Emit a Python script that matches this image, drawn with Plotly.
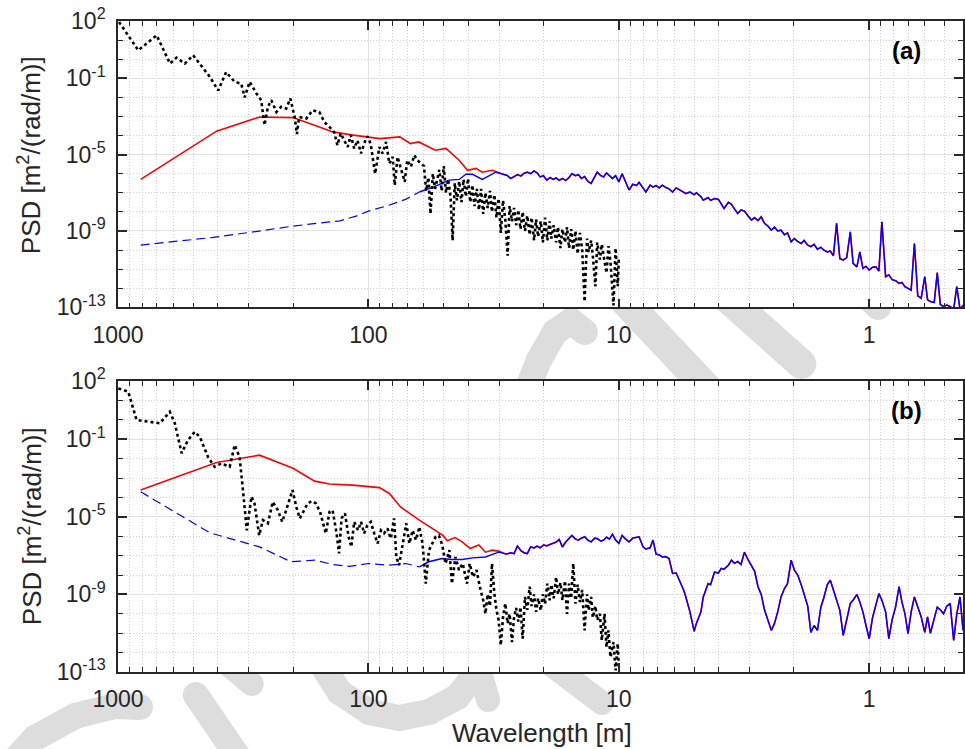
import plotly.graph_objects as go

# ---------------- panel (a) ----------------
a_black_wl = [990, 830, 701, 620, 584, 541, 501, 457, 430, 398, 370, 342, 322, 312, 298, 280, 268, 260, 252, 244,
              233, 223, 213, 205, 197, 193, 189, 177, 167, 157, 150, 143, 137, 133, 129, 125, 121, 117.6, 114, 110.6,
              107, 104, 101, 98, 94, 90.4, 87.8, 85, 82.5, 80, 78.5, 76.5, 74, 71.6, 70, 67.6, 65.6, 63.7,
              60, 58.8, 57.6, 56.5, 55.3, 54.2, 53.1, 52.1, 51, 50, 49, 48, 47, 46.1, 45.2, 44.3, 43.4, 42.5, 41.7,
              40.8, 40, 39.2, 38.4, 37.7, 36.9, 36.2, 35.5, 34.8, 34.1, 33.4, 32.7, 32.1, 31.4, 30.8, 30.2, 29.6,
              29, 28.4, 27.8, 27.3, 26.7, 26.2, 25.7, 25.2, 24.7, 24.2, 23.7, 23.2, 22.7, 22.3, 21.8, 21.4, 21,
              20.5, 20.1, 19.7, 19.3, 18.9, 18.6, 18.2, 17.8, 17.5, 17.1, 16.8, 16.4, 16.1, 15.8, 15.5, 15.2, 14.9,
              14.6, 14.3, 14, 13.7, 13.4, 13.2, 12.9, 12.7, 12.4, 12.2, 11.9, 11.7, 11.4, 11.2, 11, 10.8, 10.5,
              10.3, 10.1, 10.0]
a_black_psd = [89, 2.9, 17.8, 0.59, 1.2, 0.59, 1.6, 0.32, 0.12, 0.023, 0.21, 0.065, 0.052, 0.010, 0.065, 0.016, 7.1e-3,
               3.5e-4, 3.2e-3, 7.1e-3, 1.7e-3, 3.2e-3, 2.6e-3, 8.7e-3, 9.3e-4, 1.2e-4, 9.3e-4, 7.8e-4, 2.1e-3, 1.7e-3,
               5.1e-4, 2.8e-4, 1.5e-4, 3.1e-5, 1.3e-4, 5.6e-5, 2.5e-5, 1.05e-4, 2.1e-5, 5.6e-5, 1.15e-5, 3.8e-5,
               9.1e-5, 3.8e-5, 1.0e-6, 2.5e-5, 1.15e-5, 4.6e-5, 3.4e-6, 7.6e-6, 2.5e-7, 7.6e-6, 1.5e-6, 3.7e-7, 5.1e-6,
               2.3e-6, 9.3e-6, 5.1e-6,
               2.5e-6, 1.26e-7, 6.3e-7, 7.9e-9, 1.0e-6, 1.6e-7, 5.0e-7, 1.6e-6, 1.26e-7, 2.5e-6, 1.0e-7, 5.0e-7,
               6.3e-8, 3.2e-10, 3.2e-7, 4.0e-8, 4.0e-7, 3.2e-8, 5.0e-7, 6.3e-8, 5.6e-7, 3.2e-8, 2.5e-7, 2.0e-8,
               1.6e-7, 1.26e-8, 1.6e-7, 7.9e-9, 1.0e-7, 1.6e-8, 1.26e-7, 1.0e-8, 7.9e-8, 5.0e-9, 5.0e-8, 7.9e-10,
               4.0e-8, 4.0e-9, 5.0e-11, 2.0e-8, 3.2e-9, 1.6e-8, 2.0e-9, 1.26e-8, 1.26e-9, 1.0e-8, 1.0e-9, 6.3e-9,
               6.3e-10, 5.0e-9, 3.2e-10, 4.0e-9, 5.0e-10, 3.2e-9, 2.5e-10, 5.0e-9, 3.2e-10, 3.2e-9, 4.0e-10,
               2.0e-9, 2.5e-10, 1.6e-9, 1.26e-10, 1.26e-9, 2.5e-10, 1.6e-9, 1.26e-10, 1.26e-9, 1.0e-10, 1.0e-9,
               6.3e-11, 7.9e-10, 1.0e-10, 2.0e-13, 4.0e-10, 7.9e-11, 3.2e-10, 5.0e-11, 1.26e-12, 2.5e-10, 3.2e-11,
               2.0e-10, 2.5e-11, 6.3e-12, 1.6e-10, 2.5e-11, 1.26e-13, 1.26e-10, 1.26e-12, 3.2e-11]

a_red_wl = [812, 404, 272, 200, 157, 143, 139, 115, 100, 90, 75, 68, 63, 54, 49, 43.4, 40.2, 37.2, 35.1, 32.0, 28.3]
a_red_psd = [5.0e-7, 1.7e-4, 9.3e-4, 8.7e-4, 2.8e-4, 1.8e-4, 1.55e-4, 1.05e-4, 8.5e-5, 6.9e-5, 8.5e-5, 3.8e-5,
             4.6e-5, 1.7e-5, 2.1e-5, 5.1e-6, 1.5e-6, 1.9e-6, 1.2e-6, 1.5e-6, 8.3e-7]

a_blue_wl = [812, 417, 289, 200, 143, 130, 112, 100, 85, 71, 62.6, 55.4, 47.6, 43.4, 40.8, 38.4, 35.1, 31.0,
             28, 27, 26.2, 25.4, 24.6, 23.9, 23.2, 22.5, 21.8, 21.2, 20.6, 20, 19.4, 18.8, 18.3, 17.8, 17.3, 16.8,
             16.3, 15.8, 15.4, 14.9, 14.5, 14.1, 13.7, 13.3, 12.9, 12.5, 12.2, 11.8, 11.5, 11.2, 10.9, 10.6, 10.3,
             10.0, 9.7, 9.4, 9.1, 8.8, 8.5, 8.3, 8.0, 7.8, 7.5, 7.3, 7.1, 6.9, 6.7, 6.5, 6.3, 6.1, 5.9, 5.7, 5.5,
             5.4, 5.2, 5.0, 4.9, 4.7, 4.6, 4.4, 4.3, 4.15, 4.0, 3.9, 3.8, 3.65, 3.55, 3.45, 3.35, 3.25, 3.15, 3.05,
             2.95, 2.87, 2.78, 2.7, 2.62, 2.54, 2.46, 2.39, 2.32, 2.25, 2.18, 2.12, 2.05, 1.99, 1.93, 1.87, 1.82,
             1.76, 1.71, 1.66, 1.61, 1.56, 1.52, 1.47, 1.43, 1.39, 1.35, 1.31, 1.27, 1.23, 1.19, 1.16, 1.12, 1.09,
             1.06, 1.03, 1.0, 0.97, 0.94, 0.915, 0.89, 0.86, 0.835, 0.81, 0.785, 0.76, 0.74, 0.72, 0.70, 0.68, 0.66,
             0.64, 0.62, 0.60, 0.585, 0.57, 0.55, 0.535, 0.52, 0.505, 0.49, 0.475, 0.46, 0.447, 0.434, 0.422]
a_blue_psd = [1.8e-10, 4.6e-10, 8.9e-10, 1.8e-9, 3.0e-9, 3.4e-9, 6.0e-9, 1.1e-8, 2.0e-8, 4.5e-8, 1.1e-7, 1.9e-7,
              4.6e-7, 5.0e-7, 9.3e-7, 9.3e-7, 5.0e-7, 1.2e-6,
              8.3e-7, 5.6e-7, 7.1e-7, 8.9e-7, 7.6e-7, 1.05e-6, 1.2e-6, 1.0e-6, 1.4e-6, 1.1e-6, 6.8e-7, 7.9e-7,
              4.6e-7, 6.3e-7, 5.0e-7, 6.0e-7, 4.5e-7, 5.6e-7, 4.4e-7, 6.3e-7, 1.0e-6, 7.9e-7, 8.9e-7, 5.6e-7,
              7.1e-7, 4.0e-7, 3.1e-7, 6.3e-7, 1.2e-6, 7.9e-7, 6.8e-7, 1.1e-6, 7.6e-7, 5.6e-7, 7.9e-7, 3.7e-7,
              1.0e-6, 4.0e-7, 1.4e-7, 2.8e-7, 2.4e-7, 3.5e-7, 1.8e-7, 1.1e-7, 2.5e-7, 2.0e-7, 2.4e-7, 1.8e-7,
              2.5e-7, 1.9e-7, 1.6e-7, 1.1e-7, 1.8e-7, 1.4e-7, 1.0e-7, 9.1e-8, 1.1e-7, 7.9e-8, 1.0e-7, 6.3e-8,
              4.1e-8, 5.6e-8, 4.0e-8, 5.0e-8, 4.5e-8, 2.5e-8, 1.5e-8, 3.2e-8, 2.5e-8, 1.4e-8, 8.3e-9, 1.26e-8,
              1.1e-8, 6.3e-9, 3.7e-9, 5.0e-9, 3.5e-9, 5.5e-9, 2.5e-9, 1.8e-9, 1.1e-9, 1.6e-9, 1.0e-9, 1.1e-9,
              6.3e-10, 7.9e-10, 2.7e-10, 4.0e-10, 2.8e-10, 2.2e-10, 3.2e-10, 1.8e-10, 1.5e-10, 2.0e-10, 1.1e-10,
              1.4e-10, 1.0e-10, 7.9e-11, 8.9e-11, 5.0e-11, 2.5e-9, 3.5e-11, 3.0e-11, 4.0e-11, 8.9e-10, 2.0e-11,
              1.3e-11, 7.9e-11, 1.1e-11, 1.4e-11, 8.9e-12, 1.26e-11, 1.3e-11, 7.9e-12, 3.0e-9, 4.0e-12, 5.0e-12,
              2.8e-12, 2.5e-12, 1.8e-12, 2.0e-12, 1.2e-12, 1.0e-12, 7.9e-13, 2.2e-10, 4.0e-13, 3.0e-13, 4.0e-12,
              2.5e-13, 2.0e-13, 1.8e-13, 6.5e-12, 1.4e-13, 1.1e-13, 1.3e-13, 1.1e-13, 7.9e-14, 1.2e-12, 7.9e-14,
              1.26e-13]

# ---------------- panel (b) ----------------
b_black_wl = [997, 910, 843, 746, 680, 621, 593, 557, 525, 494, 471, 437, 411, 387, 358, 342, 327, 317, 306, 293,
              285, 273, 264, 252, 241, 230, 221, 213, 201, 194, 188, 182, 175, 168, 162, 156, 152, 148, 143, 139,
              134, 131, 128, 124, 120, 117, 114, 110, 107, 104, 101, 97.8, 94.8, 91.9, 89.1, 86.6, 83.9, 81.4, 79.0,
              77.4, 75.4, 73.2, 70.6, 68.6, 66.6, 64.6, 62.6, 60.8, 59.0, 57.3, 55.6, 53.9, 52.3, 50.7, 49.2, 47.5,
              46.4, 44.9, 43.5, 42.0, 40.4, 39.4, 38.2, 37.0, 35.9, 34.8,
              34.1, 33.4, 32.7, 32.1, 31.4, 30.8, 30.2, 29.6, 29, 28.4, 27.8, 27.3, 26.7, 26.2, 25.7, 25.2, 24.7,
              24.2, 23.7, 23.2, 22.7, 22.3, 21.8, 21.4, 21, 20.5, 20.1, 19.7, 19.3, 18.9, 18.6, 18.2, 17.8, 17.5,
              17.1, 16.8, 16.4, 16.1, 15.8, 15.5, 15.2, 14.9, 14.6, 14.3, 14, 13.7, 13.4, 13.2, 12.9, 12.7, 12.4,
              12.2, 11.9, 11.7, 11.4, 11.2, 11, 10.8, 10.5, 10.3, 10.1, 10.0]
b_black_psd = [41.7, 28.2, 0.98, 0.79, 0.66, 2.6, 0.66, 0.019, 0.091, 0.24, 0.13, 0.012, 3.8e-3, 5.6e-3, 3.8e-3,
               0.050, 0.012, 2.4e-4, 2.0e-6, 1.1e-4, 4.9e-5, 1.1e-6, 6.8e-6, 4.6e-6, 5.9e-5, 2.2e-5, 5.5e-6, 2.2e-5,
               2.4e-4, 3.2e-5, 8.3e-6, 1.8e-5, 4.9e-5, 6.5e-5, 4.9e-5, 1.8e-5, 4.6e-6, 1.4e-6, 1.8e-5, 2.2e-5,
               1.4e-6, 1.3e-7, 8.3e-6, 1.5e-5, 9.3e-7, 2.8e-7, 5.5e-6, 2.0e-6, 5.5e-6, 1.4e-6, 3.7e-6, 5.5e-6,
               1.4e-6, 4.2e-7, 2.0e-6, 1.4e-6, 2.5e-6, 7.6e-7, 8.3e-6, 8.5e-8, 3.2e-8, 2.8e-7, 4.6e-6, 4.2e-7,
               2.0e-6, 6.3e-7, 3.0e-6, 4.2e-7, 3.6e-9, 1.9e-7, 4.2e-7, 9.3e-7, 1.1e-6, 3.5e-7, 3.9e-8, 1.9e-7,
               3.6e-9, 8.5e-8, 1.8e-8, 3.9e-8, 3.6e-9, 3.9e-8, 7.9e-9, 1.8e-8, 2.5e-9, 5.0e-10,
               1.0e-10, 1.0e-9, 2.5e-10, 3.9e-8, 1.1e-9, 1.6e-10, 4.7e-11, 2.4e-12, 6.9e-11, 3.4e-10, 3.2e-11,
               1.0e-10, 3.5e-12, 6.9e-11, 2.0e-10, 4.0e-11, 2.2e-10, 5.2e-12, 7.4e-10, 1.6e-10, 2.5e-9, 2.5e-10,
               1.0e-9, 1.26e-10, 6.3e-10, 1.5e-10, 1.0e-9, 3.2e-10, 3.6e-9, 5.0e-10, 3.2e-9, 6.3e-10, 7.9e-9,
               1.0e-9, 4.0e-9, 5.0e-10, 5.0e-9, 1.0e-10, 3.6e-9, 6.3e-10, 3.9e-8, 3.4e-10, 3.2e-9, 4.0e-10, 1.7e-9,
               1.4e-11, 1.0e-9, 1.5e-10, 7.4e-10, 6.3e-11, 2.5e-10, 4.7e-11, 1.0e-10, 4.3e-12, 1.0e-10, 1.9e-12,
               1.4e-11, 5.9e-13, 3.5e-12, 1.2e-13, 2.9e-12, 1.8e-13]

b_red_wl = [812, 404, 272, 200, 164, 143, 115.5, 90.4, 82.5, 74.4, 62.6, 53.7, 50.4, 48.4, 45.1, 42.2, 39.2, 36.2,
            34.1, 32.0, 30.2, 28.3]
b_red_psd = [2.4e-4, 6.3e-3, 0.015, 3.2e-3, 6.9e-4, 4.9e-4, 4.3e-4, 3.2e-4, 1.6e-4, 3.2e-5, 6.8e-6, 2.0e-6,
             1.1e-6, 5.8e-7, 8.5e-7, 5.1e-7, 2.3e-7, 3.5e-7, 1.5e-7, 1.9e-7, 1.7e-7, 1.2e-7]

b_blue_wl = [812, 430, 272, 204, 164, 143, 139, 119, 100, 82.5, 70.8, 62.6, 57.4, 50.8, 46.5, 42.2, 38.4, 34.1,
             32, 30.2,
             28, 27, 26.2, 25.4, 24.6, 23.9, 23.2, 22.5, 21.8, 21.2, 20.6, 20, 19.4, 18.8, 18.3, 17.8, 17.3, 16.8,
             16.3, 15.8, 15.4, 14.9, 14.5, 14.1, 13.7, 13.3, 12.9, 12.5, 12.2, 11.8, 11.5, 11.2, 10.9, 10.6, 10.3,
             10.0, 9.7, 9.4, 9.1, 8.8, 8.5, 8.3, 8.0, 7.8, 7.5, 7.3, 7.1, 6.9, 6.7, 6.5, 6.3, 6.1, 5.9, 5.7, 5.5,
             5.4, 5.2, 5.0, 4.9, 4.7, 4.6, 4.4, 4.3, 4.15, 4.0, 3.9, 3.8, 3.65, 3.55, 3.45, 3.35, 3.25, 3.15, 3.05,
             2.95, 2.87, 2.78, 2.7, 2.62, 2.54, 2.46, 2.39, 2.32, 2.25, 2.18, 2.12, 2.05, 1.99, 1.93, 1.87, 1.82,
             1.76, 1.71, 1.66, 1.61, 1.56, 1.52, 1.47, 1.43, 1.39, 1.35, 1.31, 1.27, 1.23, 1.19, 1.16, 1.12, 1.09,
             1.06, 1.03, 1.0, 0.97, 0.94, 0.915, 0.89, 0.86, 0.835, 0.81, 0.785, 0.76, 0.74, 0.72, 0.70, 0.68, 0.66,
             0.64, 0.62, 0.60, 0.585, 0.57, 0.55, 0.535, 0.52, 0.505, 0.49, 0.475, 0.46, 0.447, 0.434, 0.422]
b_blue_psd = [1.95e-4, 1.5e-6, 2.8e-7, 4.8e-8, 5.8e-8, 3.9e-8, 3.5e-8, 2.8e-8, 3.9e-8, 3.2e-8, 3.9e-8, 2.6e-8,
              4.8e-8, 7.1e-8, 6.3e-8, 6.3e-8, 7.6e-8, 8.5e-8, 1.2e-7, 1.5e-7,
              1.2e-7, 1.4e-7, 1.26e-7, 3.1e-7, 1.8e-7, 1.4e-7, 1.26e-7, 2.8e-7, 2.5e-7, 3.1e-7, 2.5e-7, 3.5e-7,
              3.2e-7, 3.8e-7, 4.3e-7, 5.0e-7, 6.8e-7, 2.8e-7, 5.0e-7, 7.9e-7, 1.1e-6, 7.1e-7, 6.3e-7, 7.9e-7,
              9.3e-7, 6.3e-7, 5.1e-7, 7.9e-7, 7.6e-7, 5.6e-7, 6.3e-7, 8.9e-7, 7.1e-7, 1.26e-6, 6.3e-7, 4.3e-7,
              1.1e-6, 7.1e-7, 5.1e-7, 7.9e-7, 8.5e-7, 9.3e-7, 2.8e-7, 2.2e-7, 2.5e-7, 6.3e-7, 1.2e-7, 1.1e-7,
              8.5e-8, 8.9e-8, 7.1e-8, 1.2e-8, 1.26e-8, 5.0e-9, 1.6e-9, 7.4e-10, 1.26e-10, 1.26e-11, 3.2e-11,
              1.26e-10, 7.4e-10, 3.6e-9, 3.2e-9, 1.4e-8, 1.26e-8, 2.2e-8, 2.0e-8, 3.2e-8, 5.8e-8, 4.0e-8, 5.0e-8,
              3.5e-8, 1.5e-7, 6.3e-8, 3.2e-8, 1.6e-8, 2.5e-9, 1.0e-9, 1.6e-10, 5.0e-11, 1.4e-11, 3.2e-11, 1.26e-10,
              7.4e-10, 2.0e-9, 3.6e-9, 5.8e-8, 1.8e-8, 1.0e-8, 3.2e-9, 1.0e-9, 2.5e-10, 1.1e-11, 2.5e-11, 1.4e-11,
              2.2e-10, 6.3e-10, 3.2e-9, 5.4e-9, 1.7e-9, 5.0e-10, 1.5e-10, 7.8e-12, 5.0e-11, 3.4e-10, 5.0e-10,
              1.0e-9, 4.0e-10, 1.26e-10, 2.5e-11, 5.2e-12, 6.3e-11, 3.4e-10, 1.1e-9, 5.0e-10, 1.26e-10, 5.2e-12,
              5.0e-11, 2.2e-10, 2.5e-9, 4.0e-10, 1.0e-10, 9.5e-12, 1.26e-10, 7.4e-10, 2.0e-10, 6.9e-11, 1.1e-11,
              6.9e-11, 1.0e-11, 5.0e-11, 2.2e-10, 1.6e-10, 1.0e-10, 2.5e-10, 3.4e-10, 4.3e-12, 1.0e-10, 7.4e-10,
              1.4e-11]

# ---------------- axes ----------------
x_tick_vals = [1000, 100, 10, 1]
x_tick_text = ["1000", "100", "10", "1"]
y_tick_vals = [1e2, 1e-1, 1e-5, 1e-9, 1e-13]
y_tick_text = ["10<sup>2</sup>", "10<sup>-1</sup>", "10<sup>-5</sup>", "10<sup>-9</sup>", "10<sup>-13</sup>"]
panel_labels = ["(a)", "(b)"]
y_title = "PSD [m<sup>2</sup>/(rad/m)]"
x_title = "Wavelength [m]"

W, H = 965, 749
L, R, T, B = 118, 0, 21, 77
PW, PH = W - L - R, H - T - B
DECADE_PX = 251.0
INK = "#262626"
FONT = "Liberation Sans, Arial, Helvetica, sans-serif"
TOP_DOMAIN_PX = (21, 307.3)
BOT_DOMAIN_PX = (381, 672)


def px_x(px):
    return (px - L) / PW


def px_y(py):
    return (H - B - py) / PH


x_minor = [m * d for d in (0.1, 1, 10, 100) for m in range(2, 10)]
y_minor = [10.0 ** k for k in range(-13, 3) if 10.0 ** k not in y_tick_vals]

# ---------------- background watermark (page pixels) ----------------
# broad light-grey brush strokes lying behind the page; the white plot
# areas are painted over them, so only the margins show the strokes
WM_COLOR = "#dddddd"
watermark_strokes = [
    ([(5, 770), (35, 738), (75, 716), (115, 706), (140, 707)], 26),
    ([(196, 695), (242, 762)], 26),
    ([(214, 652), (252, 684)], 24),
    ([(318, 658), (340, 692), (370, 712), (400, 718), (430, 712), (458, 697), (478, 672)], 26),
    ([(478, 662), (489, 700)], 24),
    ([(546, 660), (603, 703)], 24),
    ([(526, 395), (540, 360), (556, 332), (572, 321), (586, 332)], 26),
    ([(610, 284), (712, 392)], 30),
    ([(712, 283), (803, 364)], 30),
    ([(856, 284), (880, 307)], 26),
]

shapes = []
for pts, w in watermark_strokes:
    path = "M " + " L ".join("%.5f,%.5f" % (px_x(x), px_y(y)) for x, y in pts)
    shapes.append(dict(type="path", xref="paper", yref="paper", path=path, layer="below",
                       line=dict(color=WM_COLOR, width=w)))
    for x, y in pts:
        r = w / 2.0
        shapes.append(dict(type="circle", xref="paper", yref="paper", layer="below",
                           x0=px_x(x - r), x1=px_x(x + r), y0=px_y(y + r), y1=px_y(y - r),
                           fillcolor=WM_COLOR, line=dict(width=0)))
for top_px, bot_px in (TOP_DOMAIN_PX, BOT_DOMAIN_PX):
    shapes.append(dict(type="rect", xref="paper", yref="paper", layer="below",
                       x0=0, x1=1, y0=px_y(bot_px), y1=px_y(top_px),
                       fillcolor="white", line=dict(width=0)))

fig = go.Figure()


def add_panel(row, black_wl, black_psd, red_wl, red_psd, blue_wl, blue_psd):
    xa = "x" if row == 1 else "x2"
    ya = "y" if row == 1 else "y2"
    # red continues underneath the blue where both spectra coincide
    red_x = list(red_wl) + [w for w in blue_wl if w < red_wl[-1]]
    red_y = list(red_psd) + [p for w, p in zip(blue_wl, blue_psd) if w < red_wl[-1]]
    fig.add_trace(go.Scatter(x=red_x, y=red_y, mode="lines", xaxis=xa, yaxis=ya,
                             line=dict(color="#ff0000", width=1.6), showlegend=False))
    # blue: dashed where sampled sparsely (long wavelengths), continuous elsewhere
    k = max(i for i, w in enumerate(blue_wl) if w >= 60)
    fig.add_trace(go.Scatter(x=blue_wl[:k + 1], y=blue_psd[:k + 1], mode="lines", xaxis=xa, yaxis=ya,
                             line=dict(color="#0000ff", width=1.2, dash="9px,5px"), showlegend=False))
    fig.add_trace(go.Scatter(x=blue_wl[k:], y=blue_psd[k:], mode="lines", xaxis=xa, yaxis=ya,
                             line=dict(color="#0000ff", width=1.4), showlegend=False))
    fig.add_trace(go.Scatter(x=black_wl, y=black_psd, mode="lines", xaxis=xa, yaxis=ya,
                             line=dict(color="#000000", width=2.6, dash="3px,3px"), showlegend=False))


add_panel(1, a_black_wl, a_black_psd, a_red_wl, a_red_psd, a_blue_wl, a_blue_psd)
add_panel(2, b_black_wl, b_black_psd, b_red_wl, b_red_psd, b_blue_wl, b_blue_psd)

x_common = dict(
    type="log", range=[3, 3 - PW / DECADE_PX], showline=True, linecolor=INK, linewidth=1.6,
    mirror="allticks", ticks="inside", ticklen=9, tickwidth=1.6, tickcolor=INK,
    tickmode="array", tickvals=x_tick_vals, ticktext=x_tick_text,
    tickfont=dict(family=FONT, size=23, color=INK), ticklabelstandoff=6,
    showgrid=True, gridcolor="#e2e2e2", gridwidth=1, zeroline=False,
    minor=dict(tickmode="array", tickvals=x_minor, ticks="inside", ticklen=5, tickwidth=1.2,
               tickcolor=INK, showgrid=True, gridcolor="#cfcfcf", griddash="1px,2px", gridwidth=1),
)
y_common = dict(
    type="log", range=[-13, 2], showline=True, linecolor=INK, linewidth=1.6,
    mirror="allticks", ticks="inside", ticklen=9, tickwidth=1.6, tickcolor=INK,
    tickmode="array", tickvals=y_tick_vals, ticktext=y_tick_text,
    tickfont=dict(family=FONT, size=23, color=INK), ticklabelstandoff=6,
    showgrid=True, gridcolor="#e2e2e2", gridwidth=1, zeroline=False,
    minor=dict(tickmode="array", tickvals=y_minor, ticks="inside", ticklen=5, tickwidth=1.2,
               tickcolor=INK, showgrid=True, gridcolor="#cfcfcf", griddash="1px,2px", gridwidth=1),
)

fig.update_layout(
    width=W, height=H, autosize=False,
    margin=dict(l=L, r=R, t=T, b=B, pad=0),
    paper_bgcolor="white", plot_bgcolor="white",
    xaxis=dict(x_common, domain=[0, 1], anchor="y"),
    yaxis=dict(y_common, domain=[px_y(TOP_DOMAIN_PX[1]), px_y(TOP_DOMAIN_PX[0])], anchor="x"),
    xaxis2=dict(x_common, domain=[0, 1], anchor="y2"),
    yaxis2=dict(y_common, domain=[px_y(BOT_DOMAIN_PX[1]), px_y(BOT_DOMAIN_PX[0])], anchor="x2"),
    showlegend=False,
    shapes=shapes,
)

annotations = []
for lbl, (cy_title, cy_lbl) in zip(panel_labels, [(155, 50), (526, 410)]):
    annotations.append(dict(text=y_title, x=px_x(30), y=px_y(cy_title), xref="paper", yref="paper",
                            textangle=-90, showarrow=False, xanchor="center", yanchor="middle",
                            font=dict(family=FONT, size=26, color=INK)))
    annotations.append(dict(text="<b>%s</b>" % lbl, x=px_x(908), y=px_y(cy_lbl), xref="paper", yref="paper",
                            showarrow=False, xanchor="center", yanchor="middle",
                            font=dict(family=FONT, size=24, color="#000000")))
annotations.append(dict(text=x_title, x=px_x(543), y=px_y(733), xref="paper", yref="paper",
                        showarrow=False, xanchor="center", yanchor="middle",
                        font=dict(family=FONT, size=26, color=INK)))
fig.update_layout(annotations=annotations)

fig.write_html("out.html")
